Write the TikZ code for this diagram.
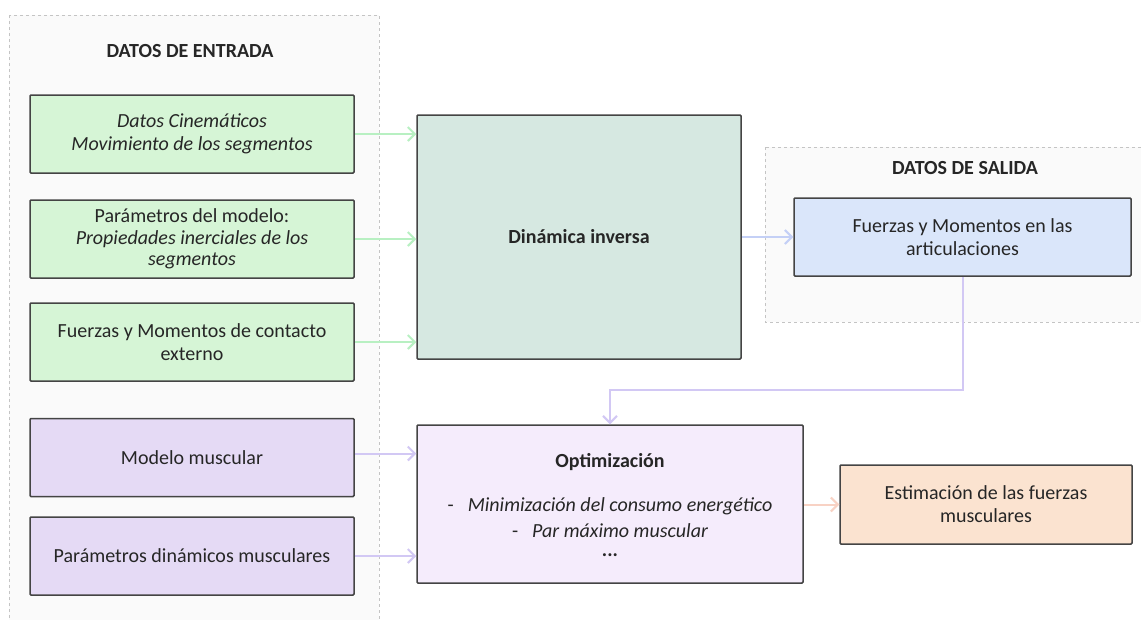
\documentclass[tikz,border=0pt]{standalone}
\usepackage{fontspec}
\setmainfont{Carlito}
\usetikzlibrary{arrows.meta}

\definecolor{boxline}{RGB}{68,68,68}
\definecolor{panelfill}{RGB}{250,250,250}
\definecolor{panelline}{RGB}{196,196,196}
\definecolor{ingreen}{RGB}{214,245,214}
\definecolor{dynfill}{RGB}{214,232,225}
\definecolor{outblue}{RGB}{218,230,250}
\definecolor{inpurple}{RGB}{229,218,245}
\definecolor{optfill}{RGB}{245,236,252}
\definecolor{estfill}{RGB}{251,227,208}
\definecolor{arrgreen}{RGB}{184,240,194}
\definecolor{arrblue}{RGB}{196,208,246}
\definecolor{arrpurple}{RGB}{210,200,244}
\definecolor{arrorange}{RGB}{248,210,196}

\begin{document}
\begin{tikzpicture}[x=1pt,y=-1pt,
  every node/.style={font=\fontsize{20}{23}\selectfont, text=black!85, inner sep=0pt},
  panel/.style={draw=panelline, fill=panelfill, dashed, line width=0.8pt},
  box/.style={draw=boxline, line width=1.5pt, rounded corners=1pt, align=center},
  inbox/.style={box, minimum width=324pt, minimum height=78pt},
  flow/.style={draw=#1, line width=2pt, -{Straight Barb[length=7pt,width=14pt]}},
  paneltitle/.style={font=\fontsize{20}{23}\selectfont\bfseries}
]
% canvas
\clip (0,0) rectangle (1141,619);
\fill[white] (0,0) rectangle (1141,619);

% input and output panels
\draw[panel] (9,15) rectangle (379,660);
\draw[panel] (765,147) rectangle (1180,322);
\node[paneltitle] (intitle) at (190,51) {DATOS DE ENTRADA};
\node[paneltitle] (outtitle) at (965,168) {DATOS DE SALIDA};

% input data
\node[inbox, fill=ingreen] (cin) at (192,134)
  {\itshape Datos Cinemáticos\\\itshape Movimiento de los segmentos};
\node[inbox, fill=ingreen, font=\fontsize{20}{21.5}\selectfont] (par) at (192,239)
  {Parámetros del modelo:\\\itshape Propiedades inerciales de los\\\itshape segmentos};
\node[inbox, fill=ingreen] (ext) at (192,342)
  {Fuerzas y Momentos de contacto\\externo};
\node[inbox, fill=inpurple] (mus) at (192,457.5) {Modelo muscular};
\node[inbox, fill=inpurple] (dmus) at (192,556) {Parámetros dinámicos musculares};

% processing
\node[box, fill=dynfill, minimum width=324pt, minimum height=244pt, font=\fontsize{20}{23}\selectfont\bfseries]
  (dyn) at (579,237) {Dinámica inversa};
\node[box, fill=optfill, minimum width=386pt, minimum height=158pt] (opt) at (610,504) {};
\node[font=\fontsize{20}{23}\selectfont\bfseries] (optt) at (610,462) {Optimización};
\node (opta) at (610,506) {-\hspace{14pt}\itshape Minimización del consumo energético};
\node (optb) at (610,531) {-\hspace{14pt}\itshape Par máximo muscular};
\node[font=\fontsize{20}{23}\selectfont\bfseries] (optc) at (610,555) {...};

% outputs
\node[box, fill=outblue, minimum width=337pt, minimum height=78pt] (fm) at (962.5,237)
  {Fuerzas y Momentos en las\\articulaciones};
\node[box, fill=estfill, minimum width=292pt, minimum height=79pt] (est) at (986,504.5)
  {Estimación de las fuerzas\\musculares};

% connectors
\draw[flow=arrgreen] (cin.east) -- (cin.east -| dyn.west);
\draw[flow=arrgreen] (par.east) -- (par.east -| dyn.west);
\draw[flow=arrgreen] (ext.east) -- (ext.east -| dyn.west);
\draw[flow=arrpurple] ([yshift=4pt]mus.east) -- ([yshift=4pt]mus.east -| opt.west);
\draw[flow=arrpurple] (dmus.east) -- (dmus.east -| opt.west);
\draw[flow=arrblue] (dyn.east |- fm.west) -- (fm.west);
\coordinate (turn) at (610,390);
\draw[flow=arrpurple] (fm.south) |- (turn) -- (opt.north);
\draw[flow=arrorange] (opt.east |- est.west) -- (est.west);
\end{tikzpicture}
\end{document}
